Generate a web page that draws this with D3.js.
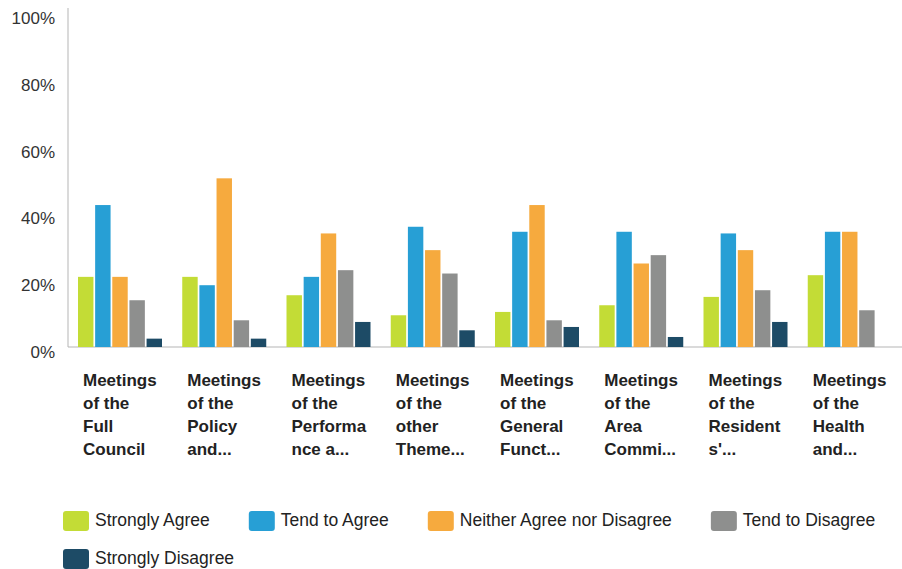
<!DOCTYPE html>
<html>
<head>
<meta charset="utf-8">
<script src="https://cdn.jsdelivr.net/npm/d3@7"></script>
<style>
  body { margin: 0; background: #fff; }
  text { font-family: Arial, "Liberation Sans", sans-serif; }
</style>
</head>
<body>
<script>
var w = 902;
var h = 569;

// categories, wrapped the way the chart shows them
var categories = [
  "Meetings|of the|Full|Council",
  "Meetings|of the|Policy|and...",
  "Meetings|of the|Performa|nce a...",
  "Meetings|of the|other|Theme...",
  "Meetings|of the|General|Funct...",
  "Meetings|of the|Area|Commi...",
  "Meetings|of the|Resident|s'...",
  "Meetings|of the|Health|and..."
];

var seriesNames = ["Strongly Agree", "Tend to Agree", "Neither Agree nor Disagree", "Tend to Disagree", "Strongly Disagree"];
var seriesColors = ["#c3dc36", "#279fd5", "#f6aa3e", "#8e8f8e", "#1d4b66"];

// percent values per series, one per category
var stronglyAgree    = [21, 21, 15.5, 9.5, 10.5, 12.5, 15, 21.5];
var tendToAgree      = [42.5, 18.5, 21, 36, 34.5, 34.5, 34, 34.5];
var neither          = [21, 50.5, 34, 29, 42.5, 25, 29, 34.5];
var tendToDisagree   = [14, 8, 23, 22, 8, 27.5, 17, 11];
var stronglyDisagree = [2.5, 2.5, 7.5, 5, 6, 3, 7.5, 0];

var yTicks = [0, 20, 40, 60, 80, 100];

var seriesValues = [stronglyAgree, tendToAgree, neither, tendToDisagree, stronglyDisagree];

var svg = d3.select("body").append("svg")
            .attr("width", w)
            .attr("height", h);

var x0 = d3.scaleBand()
           .domain(d3.range(categories.length))
           .range([68, 902])
           .padding(0);

var x1 = d3.scaleBand()
           .domain(seriesNames)
           .range([10, 94])
           .paddingInner(0.1);

var y = d3.scaleLinear()
          .domain([0, 100])
          .range([347, 13]);

// y tick labels
svg.append("g")
   .selectAll("text")
   .data(yTicks)
   .enter().append("text")
   .attr("x", 55)
   .attr("y", function(d) { return y(d) + 5; })
   .attr("dy", "0.35em")
   .attr("text-anchor", "end")
   .attr("font-size", "17px")
   .attr("fill", "#333")
   .text(function(d) { return d + "%"; });

// axis lines
svg.append("line")
   .attr("x1", 68).attr("x2", 68)
   .attr("y1", 8).attr("y2", y(0))
   .attr("stroke", "#b5b5b5")
   .attr("stroke-width", 1);
svg.append("line")
   .attr("x1", 68).attr("x2", w)
   .attr("y1", y(0)).attr("y2", y(0))
   .attr("stroke", "#b5b5b5")
   .attr("stroke-width", 1);

// bars
var groups = svg.append("g")
   .selectAll("g")
   .data(categories)
   .enter().append("g")
   .attr("transform", function(d, i) { return "translate(" + x0(i) + ",0)"; });

groups.selectAll("rect")
   .data(function(d, i) {
     return seriesNames.map(function(s, k) { return { s: s, k: k, v: seriesValues[k][i] }; });
   })
   .enter().append("rect")
   .filter(function(d) { return d.v > 0; })
   .attr("x", function(d) { return x1(d.s); })
   .attr("y", function(d) { return y(d.v); })
   .attr("width", x1.bandwidth())
   .attr("height", function(d) { return y(0) - y(d.v); })
   .attr("fill", function(d) { return seriesColors[d.k]; });

// category labels
groups.append("text")
   .attr("x", 15)
   .attr("y", 386)
   .attr("font-size", "17px")
   .attr("font-weight", "bold")
   .attr("fill", "#222")
   .selectAll("tspan")
   .data(function(d) { return d.split("|"); })
   .enter().append("tspan")
   .attr("x", 15)
   .attr("dy", function(d, i) { return i === 0 ? 0 : 23; })
   .text(function(d) { return d; });

// legend, flowing left to right and wrapping
var legend = svg.append("g");
var lx = 63, ly = 511;
seriesNames.forEach(function(s, k) {
  var item = legend.append("g");
  item.append("rect")
      .attr("width", 26)
      .attr("height", 20)
      .attr("rx", 3)
      .attr("fill", seriesColors[k]);
  var t = item.append("text")
      .attr("x", 32)
      .attr("y", 9)
      .attr("dy", "0.35em")
      .attr("font-size", "17.5px")
      .attr("fill", "#222")
      .text(s);
  var iw = 32 + t.node().getComputedTextLength();
  if (lx + iw > w - 10) { lx = 63; ly += 38; }
  item.attr("transform", "translate(" + lx + "," + ly + ")");
  lx += iw + 39;
});
</script>
</body>
</html>
